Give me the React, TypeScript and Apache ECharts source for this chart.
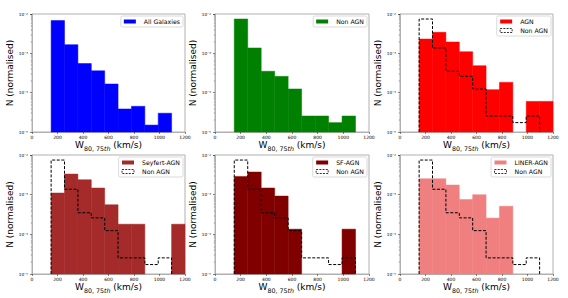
import React, { useEffect, useRef } from "react";
import * as echarts from "echarts";

const binEdges = [150, 255, 360, 465, 570, 675, 780, 885, 990, 1095, 1200];
const allGalaxies = [6.8e-3, 1.66e-3, 5.5e-4, 3.6e-4, 1.66e-4, 3.85e-5, 4.5e-5, 1.5e-5, 3.0e-5, 0];
const nonAgn = [7.46e-3, 1.37e-3, 3.5e-4, 2.6e-4, 1.24e-4, 2.55e-5, 2.55e-5, 1.73e-5, 2.55e-5, 0];
const agn = [2.31e-3, 3.42e-3, 1.94e-3, 1.1e-3, 4.85e-4, 1.19e-4, 1.83e-4, 0, 6.0e-5, 6.0e-5];
const seyfertAgn = [1.1e-3, 3.3e-3, 2.38e-3, 1.47e-3, 5.56e-4, 1.8e-4, 1.8e-4, 0, 0, 1.8e-4];
const sfAgn = [2.89e-3, 3.72e-3, 1.47e-3, 9.2e-4, 1.35e-4, 0, 0, 0, 1.35e-4, 0];
const linerAgn = [2.52e-3, 2.52e-3, 1.75e-3, 7.6e-4, 1.0e-3, 2.57e-4, 5.1e-4, 0, 0, 0];

const xTicks = [0, 200, 400, 600, 800, 1000, 1200];
const yMin = 1e-5;
const yMax = 1e-2;
const supers: Record<string, string> = { "2": "⁻²", "3": "⁻³", "4": "⁻⁴", "5": "⁻⁵" };

const FONT = "DejaVu Sans";

const panels = [
  { name: "All Galaxies", values: allGalaxies, color: "#0000ff", overlay: false, left: 32, top: 14, width: 153, height: 118 },
  { name: "Non AGN", values: nonAgn, color: "#008000", overlay: false, left: 215, top: 14, width: 154, height: 118 },
  { name: "AGN", values: agn, color: "#ff0000", overlay: true, left: 400, top: 14, width: 153, height: 118 },
  { name: "Seyfert-AGN", values: seyfertAgn, color: "#a52a2a", overlay: true, left: 32, top: 155, width: 153, height: 119 },
  { name: "SF-AGN", values: sfAgn, color: "#800000", overlay: true, left: 215, top: 155, width: 154, height: 119 },
  { name: "LINER-AGN", values: linerAgn, color: "#f08080", overlay: true, left: 400, top: 155, width: 153, height: 119 },
];

function barData(values: number[]) {
  const out: number[][] = [];
  values.forEach((v, i) => {
    if (v > 0) out.push([binEdges[i], binEdges[i + 1], v]);
  });
  return out;
}

function stepPoints(values: number[]) {
  let last = values.length - 1;
  while (last >= 0 && values[last] <= 0) last--;
  const pts: number[][] = [[binEdges[0], yMin]];
  for (let i = 0; i <= last; i++) {
    const v = values[i] > 0 ? values[i] : yMin;
    pts.push([binEdges[i], v]);
    pts.push([binEdges[i + 1], v]);
  }
  pts.push([binEdges[last + 1], yMin]);
  return pts;
}

export default function App() {
  const ref = useRef<HTMLDivElement>(null);
  useEffect(() => {
    if (!ref.current) return;
    const chart = echarts.init(ref.current, null, { renderer: "svg" });
    const grid: any[] = [];
    const xAxis: any[] = [];
    const yAxis: any[] = [];
    const series: any[] = [];
    const legend: any[] = [];
    panels.forEach((p, gi) => {
      grid.push({
        left: p.left,
        top: p.top,
        width: p.width,
        height: p.height,
        show: true,
        borderColor: "#b0b0b0",
        borderWidth: 1,
        backgroundColor: "transparent",
      });
      xAxis.push({
        type: "value",
        gridIndex: gi,
        min: xTicks[0],
        max: xTicks[xTicks.length - 1],
        interval: 200,
        axisLine: { show: true, lineStyle: { color: "#b0b0b0", width: 1 } },
        axisTick: { show: true, length: 2, lineStyle: { color: "#333", width: 0.6 } },
        splitLine: { show: false },
        axisLabel: { fontSize: 4.5, color: "#000", margin: 3, fontFamily: FONT, formatter: (v: number) => String(v) },
        name: "{m|W}{s|80, 75}{i|th}{m| (km/s)}",
        nameLocation: "middle",
        nameGap: 7,
        nameTextStyle: {
          fontFamily: FONT,
          color: "#000",
          fontSize: 9,
          rich: {
            m: { fontSize: 9, fontFamily: FONT, color: "#000", verticalAlign: "middle", lineHeight: 12 },
            s: { fontSize: 6.3, fontFamily: FONT, color: "#000", verticalAlign: "bottom", lineHeight: 12 },
            i: { fontSize: 6.3, fontFamily: FONT, fontStyle: "italic", color: "#000", verticalAlign: "bottom", lineHeight: 12 },
          },
        },
      });
      yAxis.push({
        type: "log",
        logBase: 10,
        gridIndex: gi,
        min: yMin,
        max: yMax,
        axisLine: { show: true, lineStyle: { color: "#b0b0b0", width: 1 } },
        axisTick: { show: true, length: 2, lineStyle: { color: "#333", width: 0.6 } },
        minorTick: { show: true, splitNumber: 9, length: 1.2, lineStyle: { color: "#333", width: 0.4 } },
        splitLine: { show: false },
        minorSplitLine: { show: false },
        axisLabel: {
          fontSize: 4.2,
          color: "#000",
          margin: 4,
          fontFamily: FONT,
          formatter: (v: number) => {
            const e = Math.round(-Math.log10(v));
            return "10" + (supers[String(e)] || "");
          },
        },
        name: "N (normalised)",
        nameLocation: "middle",
        nameGap: 17,
        nameTextStyle: { fontSize: 9, fontFamily: FONT, color: "#000" },
      });
      series.push({
        type: "custom",
        name: p.name,
        xAxisIndex: gi,
        yAxisIndex: gi,
        itemStyle: { color: p.color },
        encode: { x: [0, 1], y: 2 },
        data: barData(p.values),
        renderItem: (params: any, api: any) => {
          const a = api.coord([api.value(0), api.value(2)]);
          const b = api.coord([api.value(1), yMin]);
          return {
            type: "rect",
            shape: { x: a[0], y: a[1], width: b[0] - a[0], height: b[1] - a[1] },
            style: { fill: p.color, stroke: p.color, lineWidth: 0.5 },
          };
        },
        z: 2,
      });
      const legendData: any[] = [{ name: p.name, icon: "rect" }];
      if (p.overlay) {
        series.push({
          type: "line",
          name: "Non AGN",
          xAxisIndex: gi,
          yAxisIndex: gi,
          data: stepPoints(nonAgn),
          showSymbol: false,
          symbol: "none",
          lineStyle: { color: "#000", width: 1, type: [3, 1.6] },
          itemStyle: { color: "#000" },
          z: 3,
        });
        legendData.push({
          name: "Non AGN",
          icon: "rect",
          itemStyle: { color: "transparent", borderColor: "#000", borderWidth: 0.8, borderType: [2, 1.2] },
        });
      }
      legend.push({
        data: legendData,
        orient: "vertical",
        right: 568 - (p.left + p.width) + 2,
        top: p.top + 2,
        itemWidth: 12,
        itemHeight: 4,
        itemGap: 3,
        padding: [2.5, 3, 2.5, 3],
        backgroundColor: "#fff",
        borderColor: "#d0d0d0",
        borderWidth: 0.8,
        borderRadius: 1.5,
        selectedMode: false,
        textStyle: { fontSize: 6.2, fontFamily: FONT, color: "#000", padding: [0, 0, 0, 3] },
      });
    });
    chart.setOption({
      animation: false,
      backgroundColor: "#fff",
      grid,
      xAxis,
      yAxis,
      series,
      legend,
    });
    return () => chart.dispose();
  }, []);
  return (
    <div
      ref={ref}
      style={{ position: "fixed", left: 0, top: 0, width: 568, height: 298 }}
    />
  );
}
